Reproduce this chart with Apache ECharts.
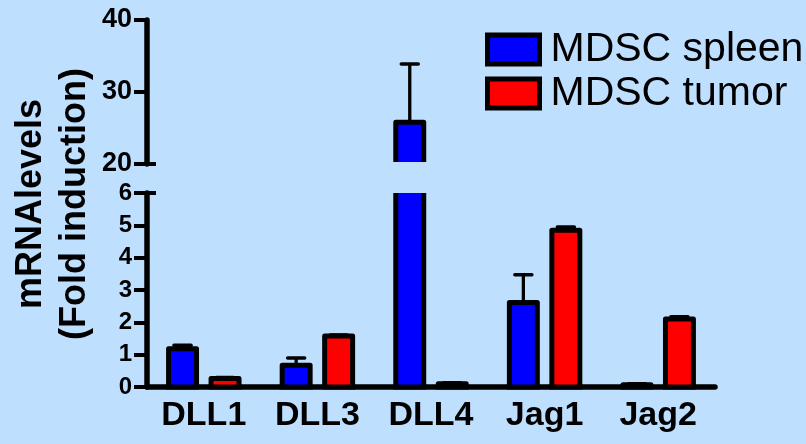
<!DOCTYPE html>
<html>
<head>
<meta charset="utf-8">
<script src="https://cdn.jsdelivr.net/npm/echarts@6/dist/echarts.min.js"></script>
<style>
html,body{margin:0;padding:0;background:#BFDFFF;}
#chart{width:806px;height:444px;}
</style>
</head>
<body>
<div id="chart"></div>
<script>
// ---- data ----
const categories = ['DLL1', 'DLL3', 'DLL4', 'Jag1', 'Jag2'];
const seriesNames = ['MDSC spleen', 'MDSC tumor'];
const spleenValues = [1.18, 0.67, 25.8, 2.61, 0.07];
const spleenErrors = [0.11, 0.23, 8.1, 0.86, 0.03];
const tumorValues = [0.26, 1.58, 0.1, 4.85, 2.1];
const tumorErrors = [0.03, 0.03, 0.03, 0.1, 0.07];
const lowerAxis = { min: 0, max: 6, interval: 1 };
const upperAxis = { min: 20, max: 40, interval: 10 };
const yAxisTitle = 'mRNAlevels\n(Fold induction)';

// ---- style ----
const FONT = '"Liberation Sans", Arial, Helvetica, sans-serif';
const COLORS = ['#0000FF', '#FF0000'];
const BAR_FRAC = 0.246;
const OFFSET_FRAC = 0.187;
const BORDER = 5;
const CAP = 17;

function toData(vals, errs) {
  return vals.map((v, i) => [i, v, errs[i]]);
}

function makeBarRender(sIdx, lo, hi) {
  return function (params, api) {
    const cat = api.value(0), v = api.value(1);
    if (v <= lo) return null;
    const band = api.size([1, 0])[0];
    const base = api.coord([cat, lo]);
    const cx = base[0] + (sIdx === 0 ? -1 : 1) * band * OFFSET_FRAC;
    const w = band * BAR_FRAC;
    const x0 = cx - w / 2, x1 = cx + w / 2;
    const clipTop = v > hi;
    const clipBottom = lo > 0;
    const yTop = api.coord([cat, Math.min(v, hi)])[1];
    const yBot = base[1] - (clipBottom ? 2 : 0);
    const stroke = { stroke: '#000', lineWidth: BORDER, fill: null, lineJoin: 'round', lineCap: 'butt' };
    const children = [{
      type: 'rect',
      shape: { x: x0, y: yTop, width: w, height: yBot - yTop },
      style: { fill: COLORS[sIdx] }
    }];
    if (clipTop) {
      children.push({ type: 'line', shape: { x1: x0, y1: yBot, x2: x0, y2: yTop }, style: stroke });
      children.push({ type: 'line', shape: { x1: x1, y1: yBot, x2: x1, y2: yTop }, style: stroke });
    } else {
      children.push({ type: 'polyline', shape: { points: [[x0, yBot], [x0, yTop], [x1, yTop], [x1, yBot]] }, style: stroke });
    }
    if (!clipBottom) {
      children.push({ type: 'line', shape: { x1: x0 - BORDER / 2, y1: yBot, x2: x1 + BORDER / 2, y2: yBot }, style: stroke });
    }
    return { type: 'group', children: children };
  };
}

function makeErrRender(sIdx, lo, hi) {
  return function (params, api) {
    const cat = api.value(0), v = api.value(1), e = api.value(2);
    if (v >= hi || v + e <= lo) return null;
    const band = api.size([1, 0])[0];
    const p0 = api.coord([cat, Math.max(v, lo)]);
    const p1 = api.coord([cat, Math.min(v + e, hi)]);
    const cx = p0[0] + (sIdx === 0 ? -1 : 1) * band * OFFSET_FRAC;
    const st = { stroke: '#000', lineWidth: 3.3, lineCap: 'butt' };
    return {
      type: 'group',
      children: [
        { type: 'line', shape: { x1: cx, y1: p0[1], x2: cx, y2: p1[1] }, style: st },
        { type: 'line', shape: { x1: cx - CAP / 2, y1: p1[1], x2: cx + CAP / 2, y2: p1[1] }, style: { stroke: '#000', lineWidth: 3.5, lineCap: 'round' } }
      ]
    };
  };
}

const allData = [toData(spleenValues, spleenErrors), toData(tumorValues, tumorErrors)];
const series = [];
[[0, lowerAxis], [1, upperAxis]].forEach(([g, ax]) => {
  const yIdx = g === 0 ? 0 : 2;
  [0, 1].forEach(s => {
    series.push({
      type: 'custom', name: seriesNames[s] + '_err', xAxisIndex: g, yAxisIndex: yIdx,
      renderItem: makeErrRender(s, ax.min, ax.max), data: allData[s],
      encode: { x: 0, y: 1 }, z: 2, silent: true
    });
  });
  [0, 1].forEach(s => {
    series.push({
      type: 'custom', name: seriesNames[s], xAxisIndex: g, yAxisIndex: yIdx,
      itemStyle: { color: COLORS[s] },
      renderItem: makeBarRender(s, ax.min, ax.max), data: allData[s],
      encode: { x: 0, y: 1 }, z: 3, silent: true
    });
  });
});

const axisLineStyle = { color: '#000', width: 5.5 };
const tickStyle = { color: '#000', width: 4 };
const chart = echarts.init(document.getElementById('chart'), null, { renderer: 'canvas' });
chart.setOption({
  backgroundColor: '#BFDFFF',
  animation: false,
  textStyle: { fontFamily: FONT },
  grid: [
    { left: 147, right: 91, top: 193, bottom: 57 },
    { left: 147, right: 91, top: 20, height: 144 }
  ],
  xAxis: [
    {
      type: 'category', gridIndex: 0, data: categories, boundaryGap: true,
      axisLine: { lineStyle: axisLineStyle },
      axisTick: { alignWithLabel: true, length: 14, lineStyle: tickStyle },
      axisLabel: { color: '#000', fontWeight: 'bold', fontSize: 34, fontFamily: FONT, margin: 12 }
    },
    {
      type: 'category', gridIndex: 1, data: categories, boundaryGap: true, show: false
    }
  ],
  yAxis: [
    {
      type: 'value', gridIndex: 0, min: lowerAxis.min, max: lowerAxis.max, interval: lowerAxis.interval,
      splitLine: { show: false },
      axisLine: { show: true, lineStyle: axisLineStyle },
      axisTick: { show: true, length: 13, lineStyle: tickStyle },
      axisLabel: { color: '#000', fontWeight: 'bold', fontSize: 24, fontFamily: FONT, margin: 15 }
    },
    {
      type: 'value', gridIndex: 0, min: lowerAxis.min, max: lowerAxis.max, position: 'left',
      splitLine: { show: false }, axisLine: { show: false }, axisLabel: { show: false },
      axisTick: { show: true, inside: true, length: 9, customValues: [lowerAxis.max], lineStyle: tickStyle }
    },
    {
      type: 'value', gridIndex: 1, min: upperAxis.min, max: upperAxis.max, interval: upperAxis.interval,
      splitLine: { show: false },
      axisLine: { show: true, lineStyle: axisLineStyle },
      axisTick: { show: true, length: 13, lineStyle: tickStyle },
      axisLabel: { color: '#000', fontWeight: 'bold', fontSize: 27, fontFamily: FONT, margin: 15 }
    },
    {
      type: 'value', gridIndex: 1, min: upperAxis.min, max: upperAxis.max, position: 'left',
      splitLine: { show: false }, axisLine: { show: false }, axisLabel: { show: false },
      axisTick: { show: true, inside: true, length: 9, customValues: [upperAxis.min], lineStyle: tickStyle }
    }
  ],
  legend: {
    orient: 'vertical', left: 485, top: 29, padding: 0, itemWidth: 52, itemHeight: 29, itemGap: 3,
    icon: 'rect',
    data: seriesNames.map((n, i) => ({ name: n, itemStyle: { color: COLORS[i], borderColor: '#000', borderWidth: 5 } })),
    textStyle: { color: '#000', fontSize: 41, fontFamily: FONT, lineHeight: 40, padding: [0, 0, 0, 6] },
    selectedMode: false
  },
  graphic: [{
    type: 'text', rotation: Math.PI / 2, x: 53, y: 204,
    style: {
      text: yAxisTitle, fill: '#000', fontWeight: 'bold', fontSize: 36, fontFamily: FONT,
      lineHeight: 44, align: 'center', verticalAlign: 'middle'
    }
  }],
  series: series
});
</script>
</body>
</html>
